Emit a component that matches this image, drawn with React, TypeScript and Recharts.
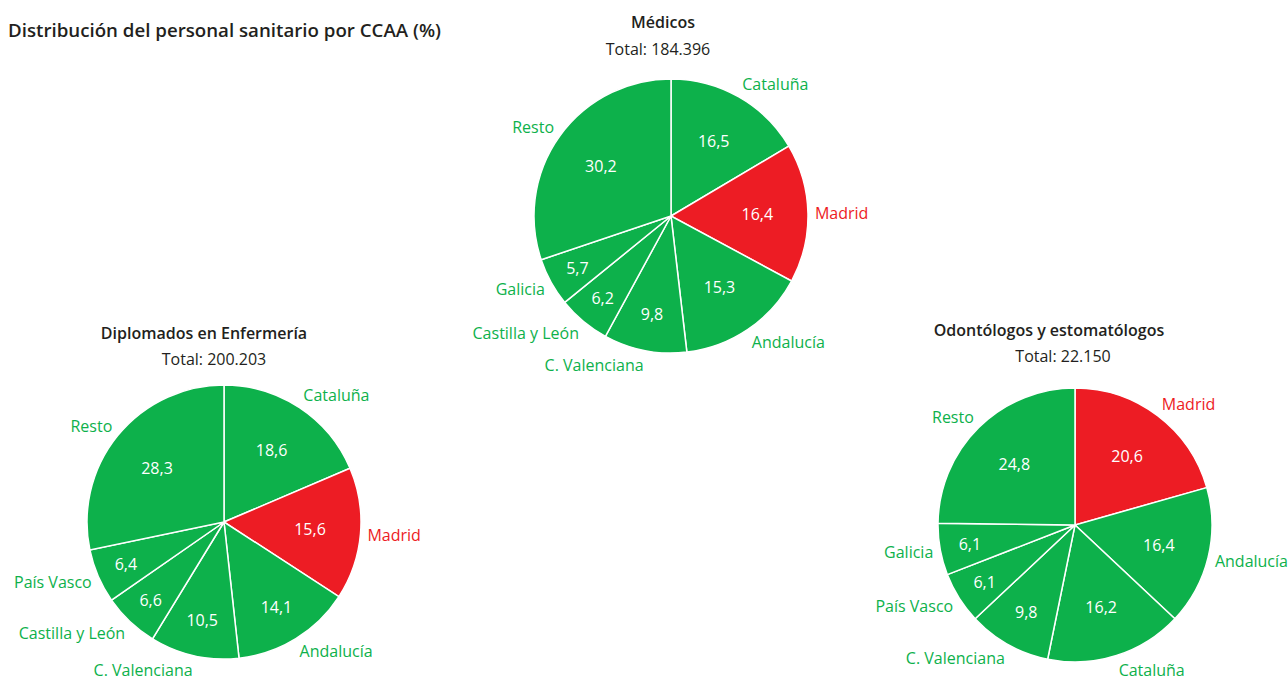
import React from 'react';
import { PieChart, Pie, Cell } from 'recharts';

const GREEN = '#0db14b';
const RED = '#ed1c24';
const FONT = '"Open Sans", sans-serif';

const medicosNames = ['Cataluña', 'Madrid', 'Andalucía', 'C. Valenciana', 'Castilla y León', 'Galicia', 'Resto'];
const medicosValues = [16.5, 16.4, 15.3, 9.8, 6.2, 5.7, 30.2];

const enfermeriaNames = ['Cataluña', 'Madrid', 'Andalucía', 'C. Valenciana', 'Castilla y León', 'País Vasco', 'Resto'];
const enfermeriaValues = [18.6, 15.6, 14.1, 10.5, 6.6, 6.4, 28.3];

const odontoNames = ['Madrid', 'Andalucía', 'Cataluña', 'C. Valenciana', 'País Vasco', 'Galicia', 'Resto'];
const odontoValues = [20.6, 16.4, 16.2, 9.8, 6.1, 6.1, 24.8];

const toData = (names: string[], values: number[]) =>
  names.map((name, i) => ({ name, value: values[i] }));

const RAD = Math.PI / 180;

const renderLabel = (props: any) => {
  const { cx, cy, midAngle, outerRadius, name, value } = props;
  const cos = Math.cos(-midAngle * RAD);
  const sin = Math.sin(-midAngle * RAD);
  const color = name === 'Madrid' ? RED : GREEN;

  // value inside the slice, pushed outward for the thin ones
  const inR = outerRadius * (value >= 15 ? 0.63 : value >= 9 ? 0.73 : 0.78);
  const ix = cx + inR * cos;
  const iy = cy + inR * sin;

  // region name just outside the rim
  const ox = cx + (outerRadius + 7) * cos;
  const oy = cy + (outerRadius + 15) * sin;

  return (
    <g>
      <text x={ix} y={iy} fill="#fff" fontSize={16} fontFamily={FONT} textAnchor="middle" dominantBaseline="central">
        {String(value).replace('.', ',')}
      </text>
      <text x={ox} y={oy} fill={color} fontSize={16} fontFamily={FONT} textAnchor={cos >= 0 ? 'start' : 'end'} dominantBaseline="central">
        {name}
      </text>
    </g>
  );
};

const Title = ({ x, y, bold, children }: { x: number; y: number; bold?: boolean; children: React.ReactNode }) => (
  <div
    style={{
      position: 'absolute',
      left: x - 200,
      top: y - 11,
      width: 400,
      textAlign: 'center',
      fontFamily: FONT,
      fontSize: 16,
      fontWeight: bold ? 600 : 400,
      color: '#231f20',
      lineHeight: '22px',
    }}
  >
    {children}
  </div>
);

const pies = [
  { key: 'med', data: toData(medicosNames, medicosValues), cx: 671, cy: 216 },
  { key: 'enf', data: toData(enfermeriaNames, enfermeriaValues), cx: 224, cy: 522 },
  { key: 'odo', data: toData(odontoNames, odontoValues), cx: 1075, cy: 525 },
];

export default function App() {
  return (
    <div style={{ position: 'absolute', left: 0, top: 0, width: 1288, height: 682, background: '#fff' }}>
      <div
        style={{
          position: 'absolute',
          left: 8,
          top: 18,
          fontFamily: FONT,
          fontSize: 18.7,
          fontWeight: 600,
          color: '#231f20',
          lineHeight: '24px',
        }}
      >
        Distribución del personal sanitario por CCAA (%)
      </div>
      <Title x={663} y={22} bold>Médicos</Title>
      <Title x={658} y={49}>Total: 184.396</Title>
      <Title x={204} y={333} bold>Diplomados en Enfermería</Title>
      <Title x={214} y={359}>Total: 200.203</Title>
      <Title x={1049} y={330} bold>Odontólogos y estomatólogos</Title>
      <Title x={1063} y={356}>Total: 22.150</Title>
      <div style={{ position: 'absolute', left: 0, top: 0 }}>
        <PieChart width={1288} height={682} margin={{ top: 0, right: 0, bottom: 0, left: 0 }}>
          {pies.map((p) => (
            <Pie
              key={p.key}
              data={p.data}
              dataKey="value"
              nameKey="name"
              cx={p.cx}
              cy={p.cy}
              outerRadius={137}
              startAngle={90}
              endAngle={-270}
              stroke="#fff"
              strokeWidth={1.5}
              label={renderLabel}
              labelLine={false}
              isAnimationActive={false}
            >
              {p.data.map((d, i) => (
                <Cell key={`${p.key}-${i}`} fill={d.name === 'Madrid' ? RED : GREEN} />
              ))}
            </Pie>
          ))}
        </PieChart>
      </div>
    </div>
  );
}
